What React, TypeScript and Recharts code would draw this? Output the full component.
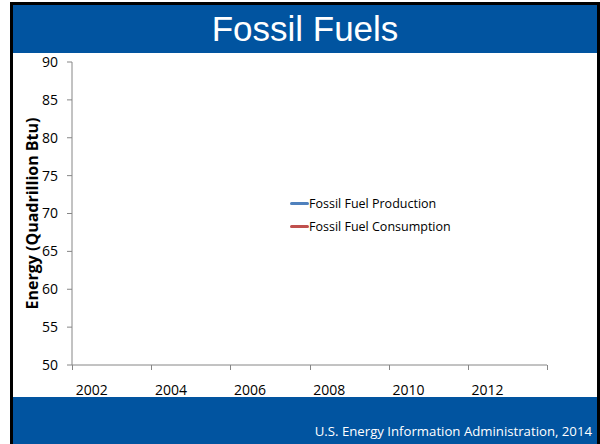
import React from 'react'
import { LineChart, Line, XAxis, YAxis, Legend } from 'recharts'

// categories along the x axis (one per year, labels every other year)
const years = ['2002', '2003', '2004', '2005', '2006', '2007', '2008', '2009', '2010', '2011', '2012', '2013']

// the series lines are not drawn in the slide, so there are no visible values
const production: (number | null)[] = [null, null, null, null, null, null, null, null, null, null, null, null]
const consumption: (number | null)[] = [null, null, null, null, null, null, null, null, null, null, null, null]

const yTicks = [50, 55, 60, 65, 70, 75, 80, 85, 90]

const seriesNames = ['Fossil Fuel Production', 'Fossil Fuel Consumption']
const seriesColors = ['#4F81BD', '#C0504D']

const data = years.map((year, i) => ({
  year,
  production: production[i],
  consumption: consumption[i]
}))

const CHART_W = 600
const CHART_H = 444
const margin = { top: 62, right: 53, bottom: 49, left: 0 }
const Y_AXIS_W = 72
const X_AXIS_H = 30
const PLOT_LEFT = margin.left + Y_AXIS_W
const PLOT_W = CHART_W - margin.right - PLOT_LEFT
const PLOT_BOTTOM = CHART_H - margin.bottom - X_AXIS_H
const band = PLOT_W / years.length

const axisGray = '#868686'
const bodyFont = '"Open Sans", sans-serif'
const blue = '#0154A0'

const tickMarkStyle = { stroke: axisGray, strokeWidth: 1, fill: 'none' }

// labels sit in the middle of each year, tick marks on the boundaries
const XTick = (props: any) => {
  const { x, payload } = props
  const cx = Number(x)
  const i = years.indexOf(payload.value)
  const left = Math.round(cx - band / 2) + 0.5
  const isLast = i + 2 >= years.length
  const right = Math.round(cx - band / 2 + band * 2) + 0.5
  return (
    <g>
      <path d={`M${left},${PLOT_BOTTOM}V${PLOT_BOTTOM + 5}`} style={tickMarkStyle} />
      {isLast && <path d={`M${right},${PLOT_BOTTOM}V${PLOT_BOTTOM + 5}`} style={tickMarkStyle} />}
      <text
        x={cx}
        y={PLOT_BOTTOM + 24}
        textAnchor="middle"
        dominantBaseline="central"
        fontSize={14}
        fontFamily={bodyFont}
        fill="#000"
      >
        {payload.value}
      </text>
    </g>
  )
}

const renderLegend = () => (
  <div style={{ fontFamily: bodyFont, fontSize: 12.5, color: '#000' }}>
    {seriesNames.map((name, i) => (
      <div key={name} style={{ display: 'flex', alignItems: 'center', height: 23 }}>
        <div
          style={{
            width: 19,
            height: 3,
            borderRadius: 2,
            background: seriesColors[i]
          }}
        />
        <span style={{ whiteSpace: 'nowrap' }}>{name}</span>
      </div>
    ))}
  </div>
)

export default function App() {
  return (
    <div
      style={{
        position: 'absolute',
        left: 0,
        top: 0,
        width: CHART_W,
        height: CHART_H,
        background: '#fff',
        overflow: 'hidden'
      }}
    >
      {/* slide frame */}
      <div
        style={{
          position: 'absolute',
          left: 10,
          top: 2,
          width: 584,
          height: 442,
          borderLeft: '3px solid #000',
          borderTop: '3px solid #000',
          borderRight: '3px solid #000'
        }}
      />
      <div
        style={{
          position: 'absolute',
          left: 13,
          top: 5,
          width: 584,
          height: 48,
          background: blue,
          color: '#fff',
          fontFamily: '"Liberation Sans", Arial, sans-serif',
          fontSize: 35,
          lineHeight: '48px',
          textAlign: 'center'
        }}
      >
        Fossil Fuels
      </div>
      <div
        style={{
          position: 'absolute',
          left: 13,
          top: 397,
          width: 584,
          height: 47,
          background: blue
        }}
      >
        <div
          style={{
            position: 'absolute',
            right: 5,
            top: 25,
            color: '#fff',
            fontFamily: bodyFont,
            fontSize: 13.2,
            lineHeight: '18px',
            whiteSpace: 'nowrap'
          }}
        >
          U.S. Energy Information Administration, 2014
        </div>
      </div>

      <div style={{ position: 'absolute', left: 0, top: 0 }}>
        <LineChart width={CHART_W} height={CHART_H} data={data} margin={margin}>
          <XAxis
            dataKey="year"
            interval={1}
            height={X_AXIS_H}
            padding={{ left: band / 2, right: band / 2 }}
            stroke={axisGray}
            tickLine={false}
            tick={(p: any) => <XTick {...p} />}
          />
          <YAxis
            type="number"
            domain={[50, 90]}
            ticks={yTicks}
            allowDataOverflow
            width={Y_AXIS_W}
            stroke={axisGray}
            tickSize={5}
            tickMargin={9}
            tick={{ fill: '#000', fontSize: 14, fontFamily: bodyFont }}
            label={{
              content: ({ viewBox }: any) => {
                const cy = viewBox.y + viewBox.height / 2
                return (
                  <text
                    x={32}
                    y={cy}
                    transform={`rotate(-90, 32, ${cy})`}
                    textAnchor="middle"
                    dominantBaseline="central"
                    fontSize={16}
                    fontWeight="bold"
                    fontFamily={bodyFont}
                    fill="#000"
                  >
                    Energy (Quadrillion Btu)
                  </text>
                )
              }
            }}
          />
          <Legend
            layout="vertical"
            verticalAlign="middle"
            align="center"
            content={renderLegend}
            wrapperStyle={{ left: 290, top: 192, width: 200 }}
          />
          <Line
            dataKey="production"
            name={seriesNames[0]}
            stroke={seriesColors[0]}
            strokeWidth={3}
            dot={false}
            isAnimationActive={false}
          />
          <Line
            dataKey="consumption"
            name={seriesNames[1]}
            stroke={seriesColors[1]}
            strokeWidth={3}
            dot={false}
            isAnimationActive={false}
          />
        </LineChart>
      </div>
    </div>
  )
}
